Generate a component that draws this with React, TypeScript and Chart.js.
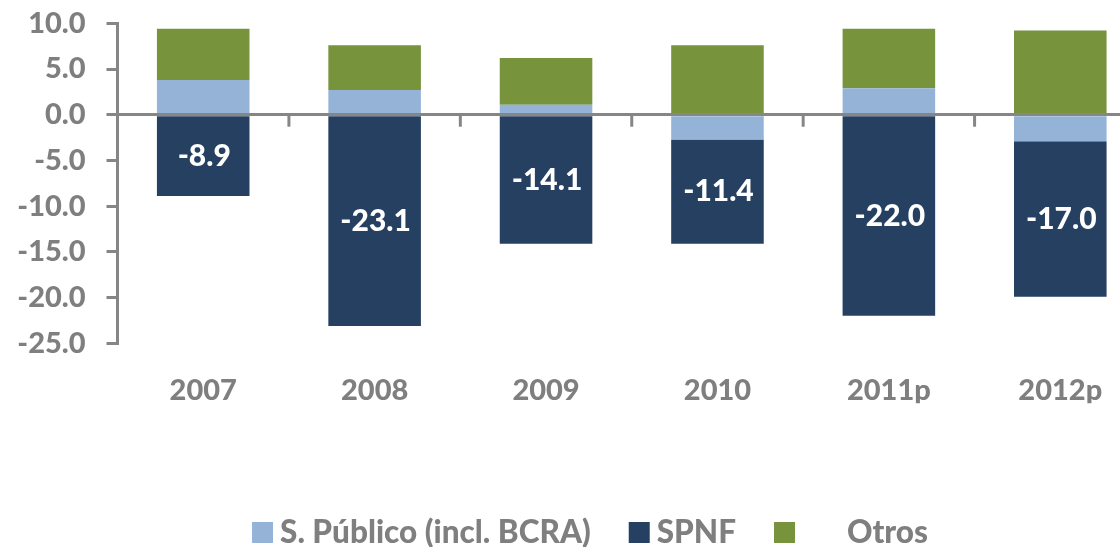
import React, { useEffect, useRef } from "react";
import { Chart, registerables } from "chart.js";

Chart.register(...registerables);

const categories = ["2007", "2008", "2009", "2010", "2011p", "2012p"];
const sPublico = [3.8, 2.7, 1.1, -2.7, 2.9, -2.9];
const spnf = [-8.9, -23.1, -14.1, -11.4, -22.0, -17.0];
const otros = [5.6, 4.9, 5.1, 7.6, 6.5, 9.2];
const seriesLabels = ["S. Público (incl. BCRA)", "SPNF", "Otros"];
const legendTexts = ["S. Público (incl. BCRA)", "SPNF", "      Otros"];
const seriesColors = ["#95B3D7", "#254061", "#77933C"];
const yMin = -25;
const yMax = 10;
const yStep = 5;

const GRAY = "#868686";
const TEXT_GRAY = "#7F7F7F";
const FONT = "Lato, 'Open Sans', sans-serif";
const WEIGHT = "900";

const overlayPlugin = {
  id: "overlay",
  afterDatasetsDraw(chart: any) {
    const ctx = chart.ctx;
    const meta = chart.getDatasetMeta(1);
    ctx.save();
    ctx.fillStyle = "#FFFFFF";
    ctx.font = `${WEIGHT} 30px ${FONT}`;
    ctx.textAlign = "center";
    ctx.textBaseline = "middle";
    meta.data.forEach((el: any, i: number) => {
      const p = el.getCenterPoint();
      ctx.fillText(spnf[i].toFixed(1), p.x + 1, p.y);
    });
    ctx.restore();
  },
  afterDraw(chart: any) {
    const ctx = chart.ctx;
    const xs = chart.scales.x;
    const ys = chart.scales.y;
    const n = categories.length;
    const w = (xs.right - xs.left) / n;
    const y0 = ys.getPixelForValue(0);
    ctx.save();
    ctx.strokeStyle = GRAY;
    ctx.lineWidth = 3;
    for (let i = 1; i <= n; i++) {
      const x = xs.left + i * w;
      ctx.beginPath();
      ctx.moveTo(x, y0);
      ctx.lineTo(x, y0 + 12);
      ctx.stroke();
    }
    // legend
    ctx.font = `${WEIGHT} 31.5px ${FONT}`;
    ctx.textBaseline = "alphabetic";
    ctx.textAlign = "left";
    const box = 21;
    const gap = 7;
    const itemGap = 38;
    const widths = legendTexts.map((t) => ctx.measureText(t).width);
    const total =
      widths.reduce((a, b) => a + b + box + gap, 0) + itemGap * (widths.length - 1);
    let x = 590 - total / 2;
    const baseY = 543;
    legendTexts.forEach((t, i) => {
      ctx.fillStyle = seriesColors[i];
      ctx.fillRect(x, baseY - box, box, box);
      ctx.fillStyle = TEXT_GRAY;
      ctx.fillText(t, x + box + gap, baseY);
      x += box + gap + widths[i] + itemGap;
    });
    ctx.restore();
  },
};

export default function App() {
  const ref = useRef<HTMLCanvasElement | null>(null);

  useEffect(() => {
    if (!ref.current) return;
    const data = [sPublico, spnf, otros];
    const chart = new Chart(ref.current, {
      type: "bar",
      data: {
        labels: categories,
        datasets: data.map((d, i) => ({
          label: seriesLabels[i],
          data: d,
          backgroundColor: seriesColors[i],
          borderWidth: 0,
          categoryPercentage: 1,
          barPercentage: 0.54,
        })),
      },
      options: {
        responsive: false,
        animation: false,
        devicePixelRatio: 1,
        layout: { padding: { top: 23.3, right: 0, bottom: 143.7, left: 0 } },
        plugins: {
          legend: { display: false },
          tooltip: { enabled: false },
        },
        scales: {
          x: {
            stacked: true,
            grid: { display: false, drawTicks: false },
            border: { display: false },
            ticks: {
              color: TEXT_GRAY,
              font: { family: FONT, size: 29, weight: WEIGHT },
              padding: 30,
              maxRotation: 0,
            },
            afterFit: (s: any) => {
              s.height = 60;
              s.paddingLeft = 0;
              s.paddingRight = 0;
            },
          },
          y: {
            stacked: true,
            min: yMin,
            max: yMax,
            grid: {
              z: 1,
              color: (c: any) => (c.tick && c.tick.value === 0 ? GRAY : "rgba(0,0,0,0)"),
              tickColor: GRAY,
              lineWidth: 3,
              tickLength: 11,
            },
            border: { display: true, color: GRAY, width: 3, z: 1 },
            ticks: {
              stepSize: yStep,
              color: TEXT_GRAY,
              font: { family: FONT, size: 29, weight: WEIGHT },
              padding: 21,
              callback: (v: any) => Number(v).toFixed(1),
            },
            afterFit: (s: any) => {
              s.width = 117.5;
              s.paddingTop = 0;
              s.paddingBottom = 0;
            },
          },
        },
      },
      plugins: [overlayPlugin],
    });
    return () => chart.destroy();
  }, []);

  return (
    <div
      style={{
        position: "absolute",
        left: 0,
        top: 0,
        width: 1120,
        height: 547,
        overflow: "hidden",
        background: "#FFFFFF",
      }}
    >
      <canvas
        ref={ref}
        width={1146}
        height={547}
        style={{ display: "block", width: 1146, height: 547 }}
      />
    </div>
  );
}
